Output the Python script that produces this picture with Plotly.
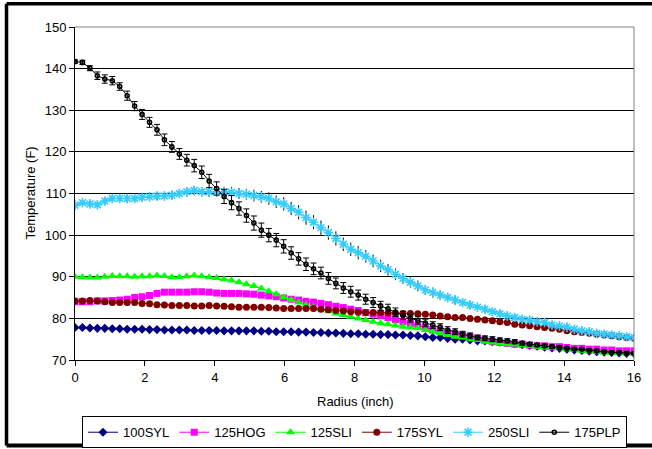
import plotly.graph_objects as go

radius = [0, 0.213, 0.427, 0.64, 0.853, 1.067, 1.28, 1.493, 1.707, 1.92,
          2.133, 2.347, 2.56, 2.773, 2.987, 3.2, 3.413, 3.627, 3.84, 4.053,
          4.267, 4.48, 4.693, 4.907, 5.12, 5.333, 5.547, 5.76, 5.973, 6.187,
          6.4, 6.613, 6.827, 7.04, 7.253, 7.467, 7.68, 7.893, 8.107, 8.32,
          8.533, 8.747, 8.96, 9.173, 9.387, 9.6, 9.813, 10.027, 10.24, 10.453,
          10.667, 10.88, 11.093, 11.307, 11.52, 11.733, 11.947, 12.16, 12.373, 12.587,
          12.8, 13.013, 13.227, 13.44, 13.653, 13.867, 14.08, 14.293, 14.507, 14.72,
          14.933, 15.147, 15.36, 15.573, 15.787, 16.0]

syl100 = [77.8, 77.8, 77.7, 77.6, 77.6, 77.5, 77.5, 77.4, 77.4, 77.4,
          77.3, 77.3, 77.2, 77.2, 77.2, 77.2, 77.1, 77.1, 77.1, 77.1,
          77.0, 77.0, 77.0, 77.0, 77.0, 76.9, 76.9, 76.8, 76.8, 76.8,
          76.7, 76.7, 76.6, 76.6, 76.5, 76.5, 76.4, 76.3, 76.3, 76.2,
          76.2, 76.1, 76.1, 76.0, 76.0, 75.9, 75.8, 75.6, 75.4, 75.4,
          75.2, 75.0, 75.0, 74.8, 74.6, 74.6, 74.4, 74.3, 74.2, 73.9,
          73.7, 73.5, 73.3, 73.1, 72.9, 72.8, 72.6, 72.4, 72.3, 72.1,
          72.0, 71.9, 71.8, 71.7, 71.6, 71.6]

hog125 = [84.0, 84.0, 84.0, 84.2, 84.2, 84.3, 84.4, 84.6, 85.0, 85.2,
          85.5, 86.0, 86.3, 86.3, 86.3, 86.3, 86.4, 86.4, 86.3, 86.1,
          86.0, 86.0, 86.0, 85.9, 85.8, 85.6, 85.4, 85.2, 84.9, 84.6,
          84.4, 84.1, 83.9, 83.6, 83.3, 82.9, 82.6, 82.2, 81.9, 81.4,
          81.0, 80.6, 80.2, 79.7, 79.2, 78.8, 78.3, 77.8, 77.3, 76.9,
          76.6, 76.2, 76.0, 75.6, 75.2, 74.8, 74.4, 74.2, 74.0, 73.8,
          73.8, 73.6, 73.4, 73.4, 73.2, 73.2, 73.0, 72.8, 72.8, 72.6,
          72.6, 72.4, 72.4, 72.2, 72.2, 72.2]

sli125 = [90.0, 89.9, 89.8, 89.8, 90.0, 90.2, 90.1, 90.1, 90.0, 90.1,
          90.1, 90.3, 90.2, 89.9, 89.9, 90.1, 90.3, 90.1, 89.9, 89.7,
          89.4, 89.1, 88.7, 88.2, 87.8, 87.2, 86.5, 85.8, 85.1, 84.4,
          83.8, 83.2, 82.7, 82.2, 81.7, 81.2, 80.8, 80.4, 80.0, 79.6,
          79.2, 78.8, 78.6, 78.3, 78.0, 77.8, 77.6, 77.2, 76.8, 76.4,
          76.0, 75.6, 75.4, 75.0, 74.8, 74.4, 74.2, 74.0, 73.8, 73.7,
          73.6, 73.4, 73.2, 73.0, 72.9, 72.8, 72.6, 72.4, 72.2, 72.1,
          72.0, 71.8, 71.8, 71.6, 71.6, 71.5]

syl175 = [84.2, 84.2, 84.3, 84.2, 84.0, 83.8, 83.8, 83.8, 83.8, 83.6,
          83.5, 83.3, 83.2, 83.1, 83.1, 83.1, 83.0, 83.0, 83.1, 83.0,
          82.9, 82.8, 82.7, 82.7, 82.7, 82.7, 82.6, 82.5, 82.4, 82.4,
          82.4, 82.4, 82.4, 82.2, 82.1, 81.9, 81.8, 81.6, 81.5, 81.4,
          81.4, 81.4, 81.3, 81.2, 81.2, 81.2, 81.1, 81.0, 80.8, 80.6,
          80.4, 80.2, 80.2, 80.0, 79.8, 79.6, 79.4, 79.2, 79.0, 78.6,
          78.4, 78.2, 78.0, 77.8, 77.6, 77.4, 77.0, 76.8, 76.6, 76.4,
          76.2, 76.0, 75.8, 75.6, 75.4, 75.2]

sli250 = [107.2, 107.8, 107.5, 107.3, 108.2, 108.8, 108.8, 108.8, 108.8, 109.1,
          109.2, 109.4, 109.4, 109.6, 110.0, 110.4, 110.7, 110.4, 110.4, 110.4,
          110.4, 110.3, 110.0, 109.8, 109.5, 109.2, 108.8, 108.0, 107.5, 106.4,
          105.5, 104.2, 103.1, 101.8, 100.6, 99.2, 97.8, 96.6, 95.8, 94.9,
          93.8, 92.6, 91.7, 90.6, 89.6, 88.7, 87.8, 86.8, 86.2, 85.6,
          85.0, 84.4, 83.8, 83.2, 82.7, 82.2, 81.6, 81.1, 80.6, 80.2,
          79.8, 79.6, 79.2, 79.0, 78.4, 78.2, 77.9, 77.4, 77.0, 76.8,
          76.4, 76.2, 76.0, 75.8, 75.6, 75.4]

sli250_err = [0.6, 0.6, 0.7, 0.7, 0.8, 0.8, 0.9, 0.9, 0.9, 0.9,
              1.0, 1.0, 1.0, 1.0, 1.0, 1.1, 1.1, 1.1, 1.2, 1.2,
              1.2, 1.3, 1.3, 1.3, 1.4, 1.4, 1.5, 1.5, 1.6, 1.6,
              1.7, 1.7, 1.7, 1.7, 1.7, 1.7, 1.6, 1.6, 1.6, 1.5,
              1.5, 1.5, 1.4, 1.4, 1.3, 1.3, 1.3, 1.2, 1.2, 1.1,
              1.1, 1.1, 1.0, 1.0, 1.0, 0.9, 0.9, 0.9, 0.9, 0.8,
              0.8, 0.8, 0.8, 0.7, 0.7, 0.7, 0.7, 0.6, 0.6, 0.6,
              0.6, 0.6, 0.5, 0.5, 0.5, 0.5]

plp175 = [141.7, 141.5, 140.1, 138.3, 137.5, 137.1, 135.7, 133.5, 131.0, 129.0,
          127.1, 125.3, 122.9, 121.2, 119.5, 118.0, 116.7, 115.1, 113.0, 111.2,
          109.3, 107.8, 106.4, 104.7, 102.9, 101.2, 100.0, 98.8, 97.3, 95.7,
          94.3, 93.0, 91.9, 90.9, 89.6, 88.4, 87.3, 86.4, 85.6, 84.6,
          83.8, 83.0, 82.3, 81.5, 80.7, 80.0, 79.5, 78.9, 78.4, 77.9,
          77.2, 76.8, 76.2, 75.8, 75.4, 75.2, 75.0, 74.8, 74.6, 74.4,
          74.0, 73.8, 73.6, 73.4, 73.2, 73.0, 72.8, 72.6, 72.6, 72.3,
          72.2, 72.0, 71.8, 71.8, 71.6, 71.6]

plp175_err = [0.4, 0.5, 0.6, 0.9, 1.0, 1.0, 0.9, 1.1, 1.1, 1.2,
              1.2, 1.3, 1.4, 1.3, 1.3, 1.4, 1.5, 1.5, 1.6, 1.6,
              1.7, 1.7, 1.6, 1.6, 1.7, 1.7, 1.6, 1.6, 1.6, 1.5,
              1.5, 1.5, 1.4, 1.4, 1.4, 1.3, 1.3, 1.3, 1.2, 1.2,
              1.2, 1.1, 1.1, 1.0, 1.0, 0.9, 0.9, 0.9, 0.8, 0.8,
              0.8, 0.7, 0.7, 0.7, 0.6, 0.6, 0.6, 0.5, 0.5, 0.5,
              0.5, 0.4, 0.4, 0.4, 0.4, 0.4, 0.3, 0.3, 0.3, 0.3,
              0.3, 0.3, 0.3, 0.3, 0.3, 0.3]

y_ticks = [70, 80, 90, 100, 110, 120, 130, 140, 150]
x_ticks = [0, 2, 4, 6, 8, 10, 12, 14, 16]

FONT = "Liberation Sans, Arial, sans-serif"

fig = go.Figure()

def add(name, y, color, symbol, size, err=None, capw=3, line_marker=None):
    marker = dict(symbol=symbol, size=size, color=color)
    if line_marker is not None:
        marker["line"] = line_marker
    kw = {}
    if err is not None:
        kw["error_y"] = dict(type="data", array=err, visible=True,
                             color="#000000", thickness=1, width=capw)
    fig.add_trace(go.Scatter(x=radius, y=y, name=name, mode="lines+markers",
                             line=dict(color=color, width=1),
                             marker=marker, **kw))

add("100SYL", syl100, "#000080", "diamond", 7)
add("125HOG", hog125, "#FF00FF", "square", 7)
add("125SLI", sli125, "#00FF00", "triangle-up", 8)
add("175SYL", syl175, "#800000", "circle", 7)
add("250SLI", sli250, "#33CCFF", "asterisk-open", 8, err=sli250_err, capw=0,
    line_marker=dict(color="#33CCFF", width=1.6))
add("175PLP", plp175, "#000000", "circle-open", 4, err=plp175_err, capw=3,
    line_marker=dict(color="#000000", width=1.6))

# frame positions in paper units (plot area: x 75..634 px, y 27..360 px)
fx0, fy0, fy1, fx1 = -0.1225, -0.2570, 1.0700, 1.10

fig.update_layout(
    width=652, height=449,
    margin=dict(l=75, r=18, t=27, b=89, autoexpand=False),
    paper_bgcolor="white", plot_bgcolor="white",
    font=dict(family=FONT, size=13, color="black"),
    showlegend=True,
    legend=dict(orientation="h", x=0.5, xanchor="center", y=-0.169, yanchor="top",
                bordercolor="black", borderwidth=1, bgcolor="white",
                font=dict(size=13), itemwidth=30, tracegroupgap=0),
    xaxis=dict(range=[0, 16], tickvals=x_ticks, ticktext=[str(v) for v in x_ticks],
               showgrid=False, zeroline=False, showline=True, linecolor="black",
               linewidth=1, ticks="outside", ticklen=5, tickcolor="black",
               mirror=False, fixedrange=True),
    yaxis=dict(range=[70, 150], tickvals=y_ticks, ticktext=[str(v) for v in y_ticks],
               showgrid=True, gridcolor="#000000", gridwidth=1, zeroline=False,
               showline=True, linecolor="black", linewidth=1, ticks="outside",
               ticklen=5, tickcolor="black", fixedrange=True),
    annotations=[
        dict(text="Radius (inch)", xref="paper", yref="paper", x=0.501, y=-0.126,
             xanchor="center", yanchor="middle", showarrow=False,
             font=dict(size=13, family=FONT)),
        dict(text="Temperature (F)", xref="paper", yref="paper", x=-0.0805, y=0.5,
             xanchor="center", yanchor="middle", showarrow=False, textangle=-90,
             font=dict(size=13, family=FONT)),
    ],
    shapes=[
        dict(type="line", xref="paper", yref="paper", x0=0, x1=1, y0=1, y1=1,
             line=dict(color="#808080", width=1)),
        dict(type="line", xref="paper", yref="paper", x0=1, x1=1, y0=0, y1=1,
             line=dict(color="#808080", width=1)),
        dict(type="line", xref="paper", yref="paper", x0=fx0, x1=fx0, y0=fy0, y1=fy1,
             line=dict(color="black", width=3.5), layer="above"),
        dict(type="line", xref="paper", yref="paper", x0=fx0, x1=fx1, y0=fy1, y1=fy1,
             line=dict(color="black", width=3.5), layer="above"),
        dict(type="line", xref="paper", yref="paper", x0=fx0, x1=fx1, y0=fy0, y1=fy0,
             line=dict(color="black", width=4), layer="above"),
    ],
)

fig.write_html("out.html", config={"displayModeBar": False},
               post_script="document.body.style.margin='0';")
